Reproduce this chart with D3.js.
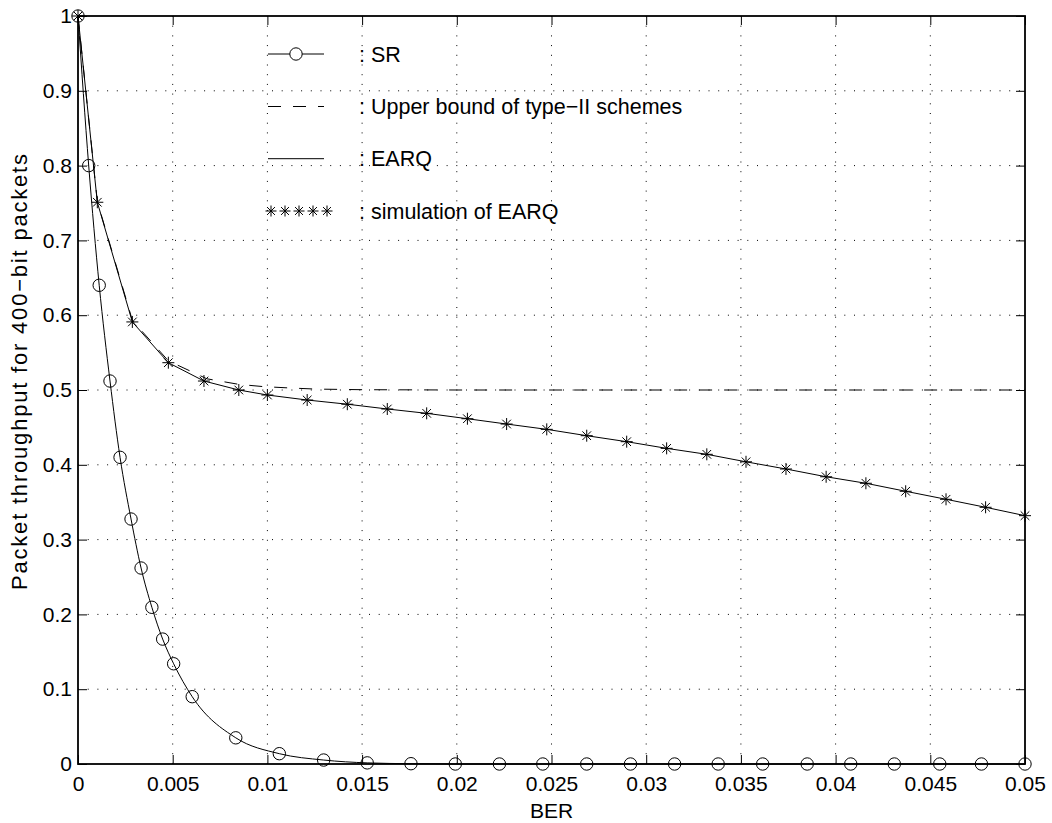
<!DOCTYPE html>
<html><head><meta charset="utf-8">
<script src="https://cdn.jsdelivr.net/npm/d3@7"></script>
<style>
body{margin:0;background:#fff;}
text{font-family:"Liberation Sans",Arial,Helvetica,sans-serif;fill:#000;}
</style></head>
<body><svg id="c" width="1052" height="823"></svg>
<script>
// ---- data ----
const xTicks = [0,0.005,0.01,0.015,0.02,0.025,0.03,0.035,0.04,0.045,0.05];
const yTicks = [0,0.1,0.2,0.3,0.4,0.5,0.6,0.7,0.8,0.9,1];
const srBER = [0,0.000565,0.00112,0.00169,0.00222,0.0028,0.00333,0.0039,0.00447,0.00505,0.00603,0.00833,0.01063,0.01297,0.01527,0.01758,0.01992,0.02225,0.02454,0.02686,0.02917,0.0315,0.0338,0.03615,0.0385,0.0408,0.0431,0.0455,0.0477,0.05];
const srVal = [1,0.800,0.640,0.512,0.410,0.3275,0.262,0.2095,0.167,0.134,0.090,0.035,0.0138,0.0053,0.0015,0.0004,0,0,0,0,0,0,0,0,0,0,0,0,0,0];
const ubBER = [0,0.00102,0.00287,0.00477,0.0068,0.0085,0.0098,0.0112,0.0126,0.015,0.02,0.05];
const ubVal = [1,0.752,0.593,0.539,0.515,0.5075,0.5045,0.5027,0.5012,0.5004,0.5,0.5];
const earqBER = [0,0.00102,0.00287,0.00477,0.00665,0.00849,0.0100,0.0121,0.01422,0.01633,0.01841,0.02056,0.02263,0.02475,0.02686,0.02897,0.03108,0.0332,0.03527,0.03738,0.0395,0.0416,0.0437,0.04583,0.04792,0.05];
const earqVal = [1,0.751,0.591,0.5365,0.512,0.500,0.4933,0.4866,0.481,0.4746,0.4688,0.4616,0.4545,0.4474,0.4389,0.4309,0.422,0.414,0.404,0.3944,0.384,0.3753,0.3646,0.3539,0.3432,0.332];
const legendLabels = [": SR", ": Upper bound of type\u2212II schemes", ": EARQ", ": simulation of EARQ"];

// ---- layout ----
const L=78, R=1025, T=16, B=764, FS=21;
const svg = d3.select("#c");
svg.append("rect").attr("width",1052).attr("height",823).attr("fill","#fff");
const x = d3.scaleLinear().domain([0,0.05]).range([L,R]);
const y = d3.scaleLinear().domain([0,1]).range([B,T]);
const fmt = d => d===0 ? "0" : String(+d.toFixed(3));

// grid
const g = svg.append("g");
g.selectAll("line.gx").data(xTicks.slice(1,-1)).join("line")
  .attr("x1",d=>x(d)).attr("x2",d=>x(d)).attr("y1",T).attr("y2",B)
  .attr("stroke","#000").attr("stroke-width",1).attr("stroke-dasharray","1,8.7");
g.selectAll("line.gy").data(yTicks.slice(1,-1)).join("line")
  .attr("y1",d=>y(d)).attr("y2",d=>y(d)).attr("x1",L).attr("x2",R)
  .attr("stroke","#000").attr("stroke-width",1).attr("stroke-dasharray","1,8.7");

// axes
function styleAxis(sel, showText){
  sel.select(".domain").remove();
  sel.selectAll(".tick line").attr("stroke","#000").attr("stroke-width",1);
  sel.selectAll(".tick text").attr("font-size",FS).attr("font-family","Liberation Sans, Arial, sans-serif");
  if(!showText) sel.selectAll(".tick text").remove();
}
svg.append("g").attr("transform",`translate(0,${B})`)
  .call(d3.axisBottom(x).tickValues(xTicks).tickFormat(fmt).tickSize(-9).tickPadding(12))
  .call(s=>styleAxis(s,true));
svg.append("g").attr("transform",`translate(0,${T})`)
  .call(d3.axisTop(x).tickValues(xTicks).tickSize(-9))
  .call(s=>styleAxis(s,false));
svg.append("g").attr("transform",`translate(${L},0)`)
  .call(d3.axisLeft(y).tickValues(yTicks).tickFormat(fmt).tickSize(-9).tickPadding(6))
  .call(s=>styleAxis(s,true));
svg.append("g").attr("transform",`translate(${R},0)`)
  .call(d3.axisRight(y).tickValues(yTicks).tickSize(-9))
  .call(s=>styleAxis(s,false));
svg.append("rect").attr("x",L).attr("y",T).attr("width",R-L).attr("height",B-T)
  .attr("fill","none").attr("stroke","#000").attr("stroke-width",1.8);

// data lines
const sr = srBER.map((b,i)=>[b,srVal[i]]);
const ub = ubBER.map((b,i)=>[b,ubVal[i]]);
const ea = earqBER.map((b,i)=>[b,earqVal[i]]);
const lineLin = d3.line().x(d=>x(d[0])).y(d=>y(d[1]));
const lineSm = d3.line().x(d=>x(d[0])).y(d=>y(d[1])).curve(d3.curveMonotoneX);
svg.append("path").attr("d",lineSm(sr)).attr("fill","none").attr("stroke","#000").attr("stroke-width",1);
svg.append("path").attr("d",lineLin(ub)).attr("fill","none").attr("stroke","#000").attr("stroke-width",1).attr("stroke-dasharray","13,12");
svg.append("path").attr("d",lineLin(ea)).attr("fill","none").attr("stroke","#000").attr("stroke-width",1);

// markers
const starPath = (s)=>`M${-s},0L${s},0M0,${-s}L0,${s}M${-s*0.72},${-s*0.72}L${s*0.72},${s*0.72}M${-s*0.72},${s*0.72}L${s*0.72},${-s*0.72}`;
svg.append("g").selectAll("circle").data(sr).join("circle")
  .attr("cx",d=>x(d[0])).attr("cy",d=>y(d[1])).attr("r",6.2)
  .attr("fill","none").attr("stroke","#000").attr("stroke-width",1);
svg.append("g").selectAll("path").data(ea).join("path")
  .attr("transform",d=>`translate(${x(d[0])},${y(d[1])})`).attr("d",starPath(6))
  .attr("fill","none").attr("stroke","#000").attr("stroke-width",1);

// legend
const lg = svg.append("g");
const lx0=268, lx1=324, ly=[54,106.5,158.7,211];
lg.append("line").attr("x1",lx0).attr("x2",lx1).attr("y1",ly[0]).attr("y2",ly[0]).attr("stroke","#000");
lg.append("circle").attr("cx",296).attr("cy",ly[0]).attr("r",6.2).attr("fill","#fff").attr("stroke","#000");
lg.append("line").attr("x1",lx0).attr("x2",lx1).attr("y1",ly[1]).attr("y2",ly[1]).attr("stroke","#000").attr("stroke-dasharray","13,12");
lg.append("line").attr("x1",lx0).attr("x2",lx1).attr("y1",ly[2]).attr("y2",ly[2]).attr("stroke","#000");
lg.selectAll("path.ls").data(d3.range(5)).join("path")
  .attr("transform",i=>`translate(${271+i*14},${ly[3]})`).attr("d",starPath(5.5))
  .attr("fill","none").attr("stroke","#000");
lg.selectAll("text").data(legendLabels).join("text")
  .attr("x",359).attr("y",(d,i)=>ly[i]).attr("dy","0.35em").attr("font-size",21.5).text(d=>d);

// axis labels
svg.append("text").attr("x",(L+R)/2).attr("y",818).attr("text-anchor","middle").attr("font-size",FS).text("BER");
svg.append("text").attr("transform",`translate(27,372) rotate(-90)`).attr("text-anchor","middle")
  .attr("font-size",22).attr("textLength",436).attr("lengthAdjust","spacing")
  .text("Packet throughput for 400\u2212bit packets");
</script></body></html>
